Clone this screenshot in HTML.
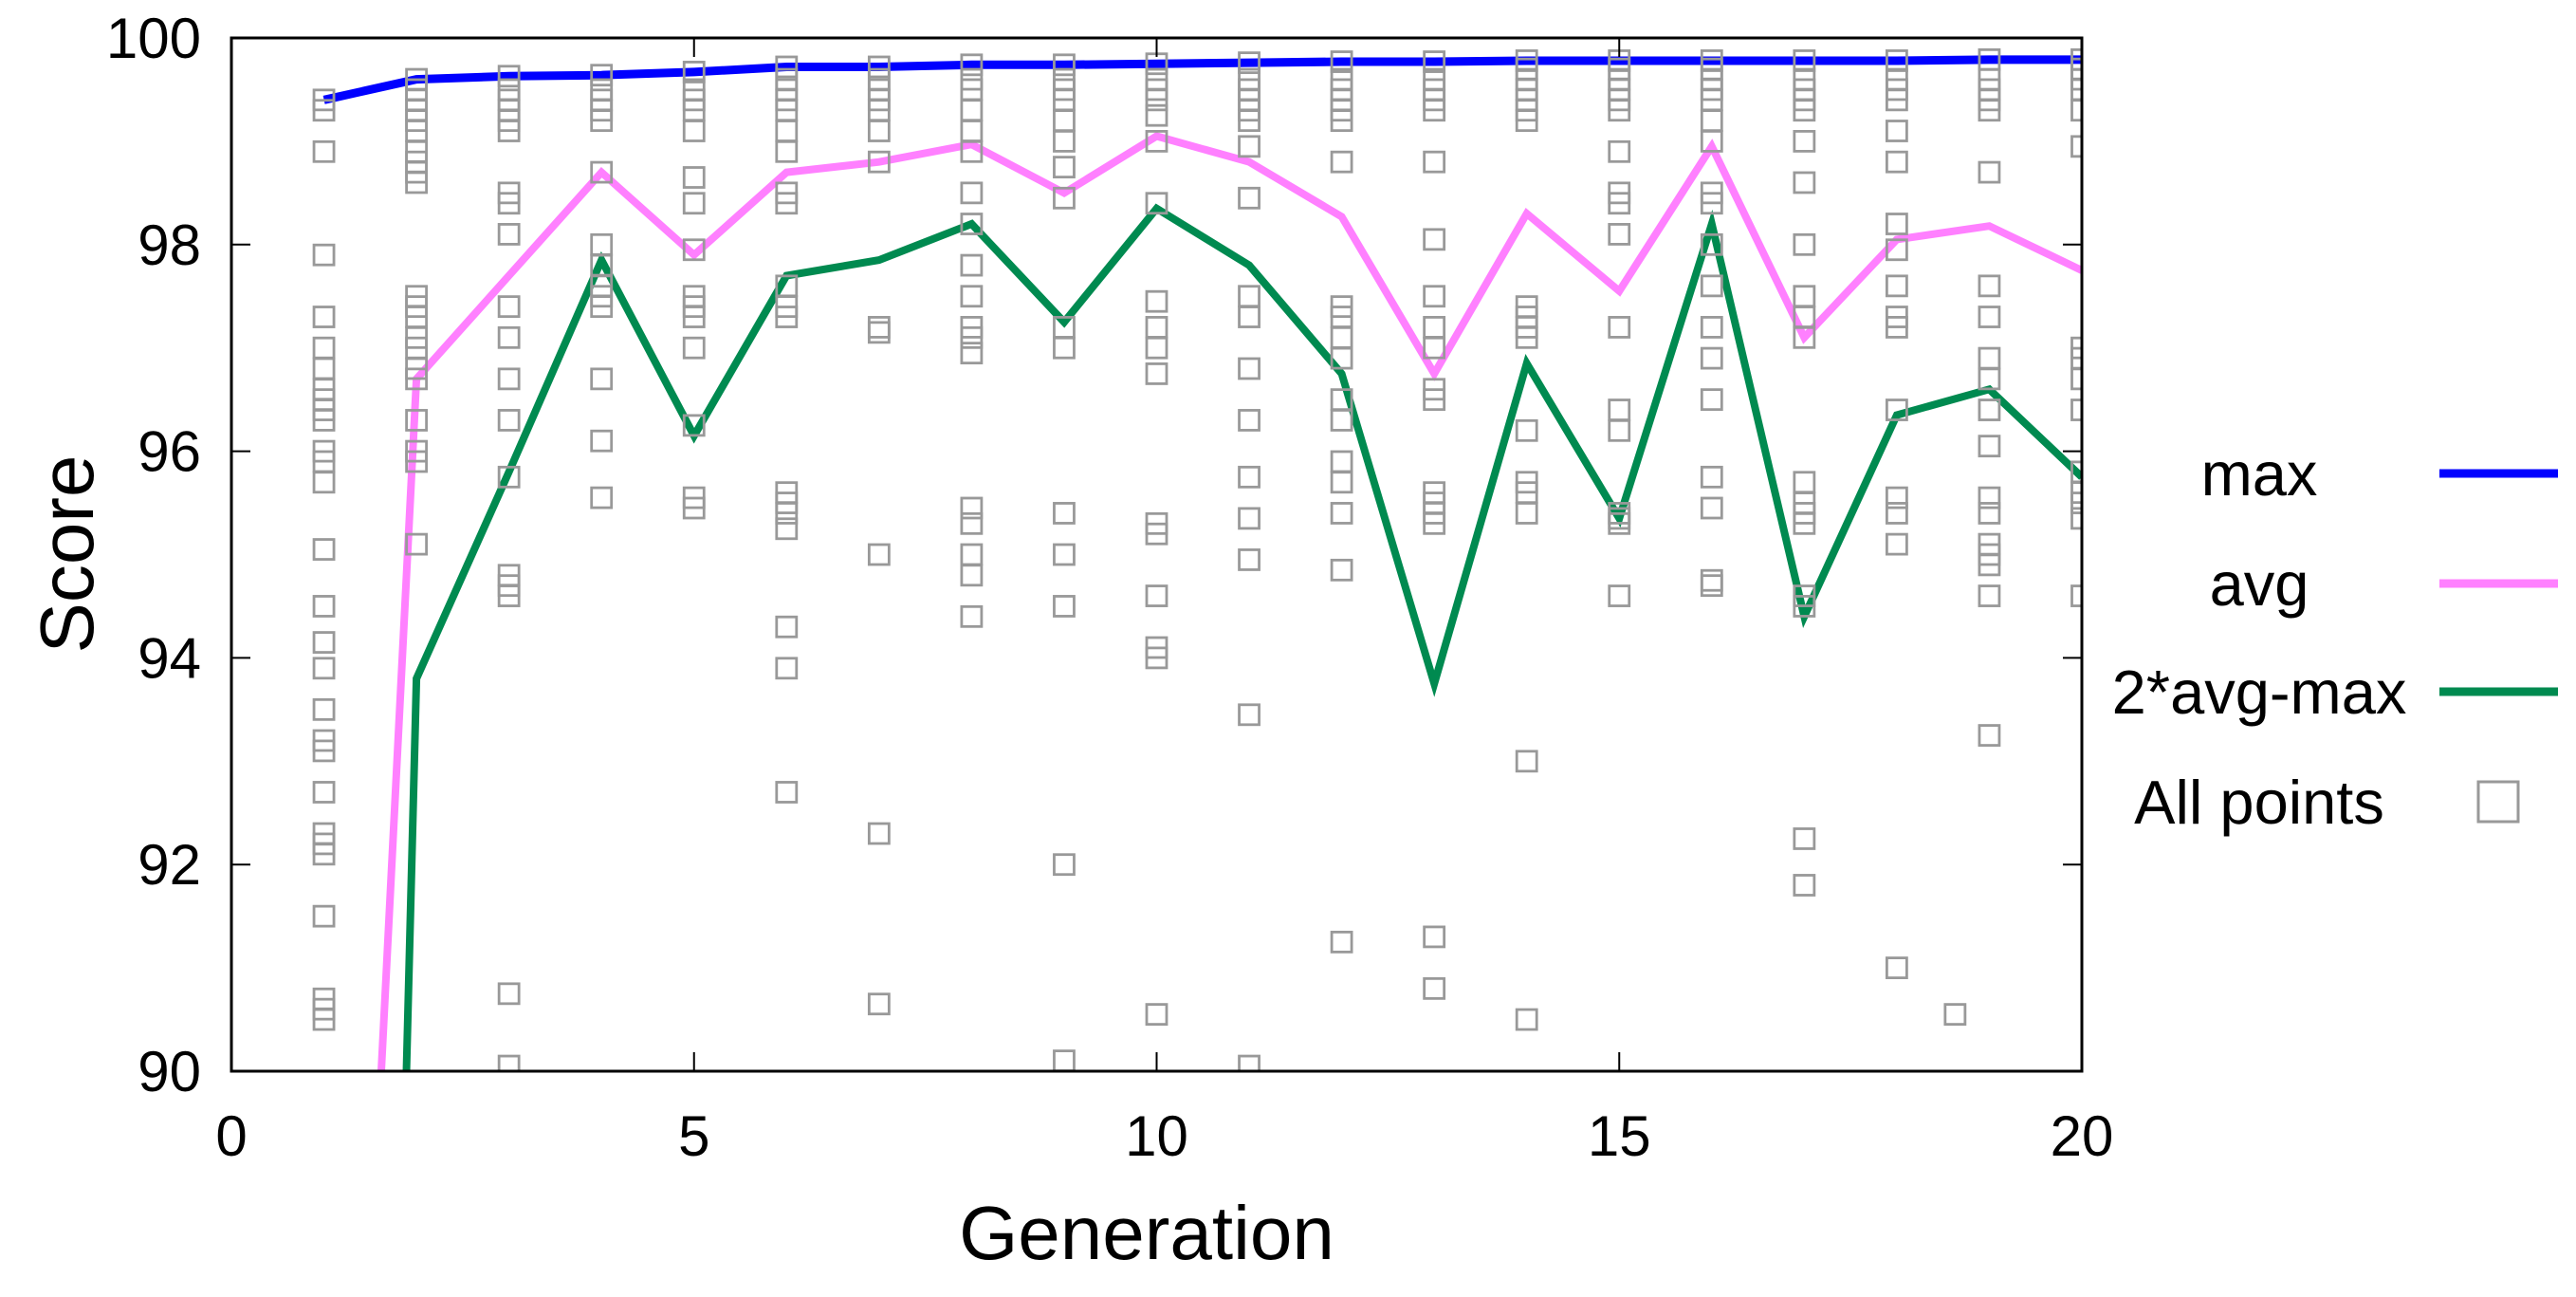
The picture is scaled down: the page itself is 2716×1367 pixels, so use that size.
<!DOCTYPE html>
<html><head><meta charset="utf-8"><style>
html,body{margin:0;padding:0;background:#fff;overflow:hidden;width:2716px;height:1367px;}
svg{display:block;font-family:"Liberation Sans",Arial,sans-serif;}
</style></head><body>
<svg id="chart" width="2716" height="1367" viewBox="0 0 2716 1367" xmlns="http://www.w3.org/2000/svg">
<rect width="2716" height="1367" fill="#fff"/>
<g id="series"></g>
<g id="points"></g>
<g id="axes"></g>
<g id="legend"></g>
</svg>
<script>
const generations=[1,2,3,4,5,6,7,8,9,10,11,12,13,14,15,16,17,18,19,20];
const maxValues=[99.4,99.6,99.63,99.64,99.67,99.72,99.72,99.74,99.74,99.75,99.76,99.77,99.77,99.78,99.78,99.78,99.78,99.78,99.79,99.79];
const avgValues=[79.1,96.7,97.7,98.7,97.9,98.7,98.8,98.97,98.5,99.05,98.8,98.27,96.75,98.3,97.55,98.95,97.1,98.05,98.18,97.75];
const spreadValues=[58.8,93.8,95.8,97.85,96.15,97.7,97.85,98.2,97.25,98.35,97.8,96.75,93.75,96.85,95.35,98.2,94.4,96.35,96.6,95.75];
const pointGroupX=[1,2,3,4,5,6,7,8,9,10,11,12,13,14,15,16,17,18,18.63,19,20];
const pointGroupValues=[
[99.4,99.3,98.9,97.9,97.3,97.0,96.8,96.6,96.5,96.4,96.3,96.0,95.9,95.7,95.05,94.5,94.15,93.9,93.5,93.2,93.1,92.7,92.3,92.2,92.1,91.5,90.7,90.6,90.5],
[99.6,99.5,99.4,99.3,99.2,99.1,98.9,98.8,98.7,98.6,97.5,97.4,97.3,97.1,97.0,96.8,96.7,96.3,96.0,95.9,95.1],
[99.63,99.5,99.4,99.3,99.2,99.1,98.5,98.4,98.1,97.4,97.1,96.7,96.3,95.75,94.8,94.7,94.6,90.75,90.05],
[99.64,99.5,99.4,99.3,99.2,98.7,98.0,97.8,97.6,97.5,97.4,96.7,96.1,95.55],
[99.67,99.5,99.4,99.3,99.1,98.65,98.4,97.95,97.5,97.4,97.3,97.0,96.25,95.55,95.45],
[99.72,99.6,99.5,99.4,99.3,99.1,98.9,98.5,98.4,97.6,97.4,97.3,95.6,95.5,95.4,95.25,94.3,93.9,92.7],
[99.72,99.6,99.5,99.4,99.3,99.1,98.8,97.2,97.15,95.0,92.3,90.65],
[99.74,99.6,99.5,99.3,99.1,98.9,98.5,98.2,97.8,97.5,97.2,97.1,96.95,95.45,95.3,95.0,94.8,94.4],
[99.74,99.6,99.5,99.4,99.2,99.0,98.75,98.45,97.2,97.0,95.4,95.0,94.5,92.0,90.1],
[99.75,99.6,99.5,99.4,99.25,99.0,98.4,97.45,97.2,97.0,96.75,95.3,95.2,94.6,94.1,94.0,90.55],
[99.76,99.6,99.5,99.4,99.3,99.2,98.95,98.45,97.5,97.3,96.8,96.3,95.75,95.35,94.95,93.45,90.05],
[99.77,99.6,99.5,99.4,99.3,99.2,98.8,97.4,97.3,97.1,96.9,96.5,96.3,95.9,95.7,95.4,94.85,91.25],
[99.77,99.6,99.5,99.4,99.3,98.8,98.05,97.5,97.2,97.0,96.6,96.5,95.6,95.5,95.4,95.3,91.3,90.8],
[99.78,99.7,99.6,99.5,99.4,99.3,99.2,97.4,97.3,97.2,97.1,96.2,95.7,95.6,95.4,93.0,90.5],
[99.78,99.7,99.6,99.5,99.4,99.3,98.9,98.5,98.4,98.1,97.2,96.4,96.2,95.4,95.35,95.3,94.6],
[99.78,99.7,99.6,99.5,99.4,99.2,99.0,98.5,98.4,98.0,97.6,97.2,96.9,96.5,95.75,95.45,94.75,94.7],
[99.78,99.6,99.5,99.4,99.3,99.0,98.6,98.0,97.5,97.3,97.1,95.7,95.5,95.4,95.3,94.6,94.5,92.25,91.8],
[99.78,99.6,99.5,99.4,99.1,98.8,98.2,97.95,97.6,97.3,97.2,96.4,95.55,95.4,95.1,91.0],
[90.55],
[99.79,99.6,99.5,99.4,99.3,98.7,97.6,97.3,96.9,96.7,96.4,96.05,95.55,95.4,95.1,95.0,94.9,94.6,93.25],
[99.79,99.7,99.6,99.5,99.3,98.95,97.0,96.9,96.7,96.4,95.8,95.6,95.5,95.35,94.6]
];
const xTicks=[0,5,10,15,20];
const yTicks=[90,92,94,96,98,100];
const legendLabels=["max","avg","2*avg-max","All points"];

const NS="http://www.w3.org/2000/svg";
const L=244,R=2195,T=40,B=1129;
const xMin=0,xMax=20,yMin=90,yMax=100;
function sx(v){return L+(v-xMin)/(xMax-xMin)*(R-L);}
function sy(v){return B-(v-yMin)/(yMax-yMin)*(B-T);}
function mk(tag,attrs,parent){const e=document.createElementNS(NS,tag);for(const k in attrs)e.setAttribute(k,attrs[k]);parent.appendChild(e);return e;}

const svg=document.getElementById('chart');
const series=document.getElementById('series');
const pts=document.getElementById('points');
const axes=document.getElementById('axes');
const legend=document.getElementById('legend');

const defs=mk('defs',{},svg);
const cp=mk('clipPath',{id:'plotclip'},defs);
mk('rect',{x:L,y:T,width:R-L,height:B-T},cp);
series.setAttribute('clip-path','url(#plotclip)');
pts.setAttribute('clip-path','url(#plotclip)');

function drawLine(vals,color,w,name){
  const d=vals.map((v,i)=>(i?'L':'M')+sx(generations[i]).toFixed(1)+' '+sy(v).toFixed(1)).join(' ');
  const p=mk('path',{d:d,fill:'none',stroke:color,'stroke-width':w,'stroke-linejoin':'miter'},series);
  
  
}
drawLine(spreadValues,'#008a50',8,'line-2avg-minus-max');
drawLine(avgValues,'#ff80ff',8,'line-avg');
drawLine(maxValues,'#0000ff',9,'line-max');

const S=21;
pointGroupValues.forEach((grp,gi)=>{
  grp.forEach(v=>{
    const r=mk('rect',{x:sx(pointGroupX[gi])-S/2,y:sy(v)-S/2,width:S,height:S,fill:'none',stroke:'#999','stroke-width':2.8},pts);
    
    
  });
});

const fr=mk('rect',{x:L,y:T,width:R-L,height:B-T,fill:'none',stroke:'#000','stroke-width':3},axes);


const tl=20;
xTicks.forEach(t=>{
  const x=sx(t);
  mk('line',{x1:x,y1:B,x2:x,y2:B-tl,stroke:'#000','stroke-width':2},axes);
  mk('line',{x1:x,y1:T,x2:x,y2:T+tl,stroke:'#000','stroke-width':2},axes);
  const tx=mk('text',{x:x,y:1218,'font-size':60,'text-anchor':'middle',fill:'#000'},axes);
  tx.textContent=t;
  
  
});
yTicks.forEach(t=>{
  const y=sy(t);
  mk('line',{x1:L,y1:y,x2:L+tl,y2:y,stroke:'#000','stroke-width':2},axes);
  mk('line',{x1:R,y1:y,x2:R-tl,y2:y,stroke:'#000','stroke-width':2},axes);
  const tx=mk('text',{x:212,y:y+21,'font-size':60,'text-anchor':'end',fill:'#000'},axes);
  tx.textContent=t;
  
  
});
const xt=mk('text',{x:1209,y:1327,'font-size':80,'text-anchor':'middle',fill:'#000'},axes);
xt.textContent='Generation';


const yt=mk('text',{x:0,y:0,'font-size':80,'text-anchor':'middle',fill:'#000',transform:'translate(98,584) rotate(-90)'},axes);
yt.textContent='Score';



const legY=[499,615,729,845];
const legColors=['#0000ff','#ff80ff','#008a50'];
legendLabels.forEach((lab,i)=>{
  const g=mk('g',{},legend);
  
  
  const tx=mk('text',{x:2382,y:legY[i]+23,'font-size':65,'text-anchor':'middle',fill:'#000'},g);
  tx.textContent=lab;
  if(i<3){
    mk('line',{x1:2572,y1:legY[i],x2:2697,y2:legY[i],stroke:legColors[i],'stroke-width':9},g);
  }else{
    mk('rect',{x:2634-21,y:legY[i]-21,width:42,height:42,fill:'none',stroke:'#999','stroke-width':3},g);
  }
});
</script>
</body></html>
